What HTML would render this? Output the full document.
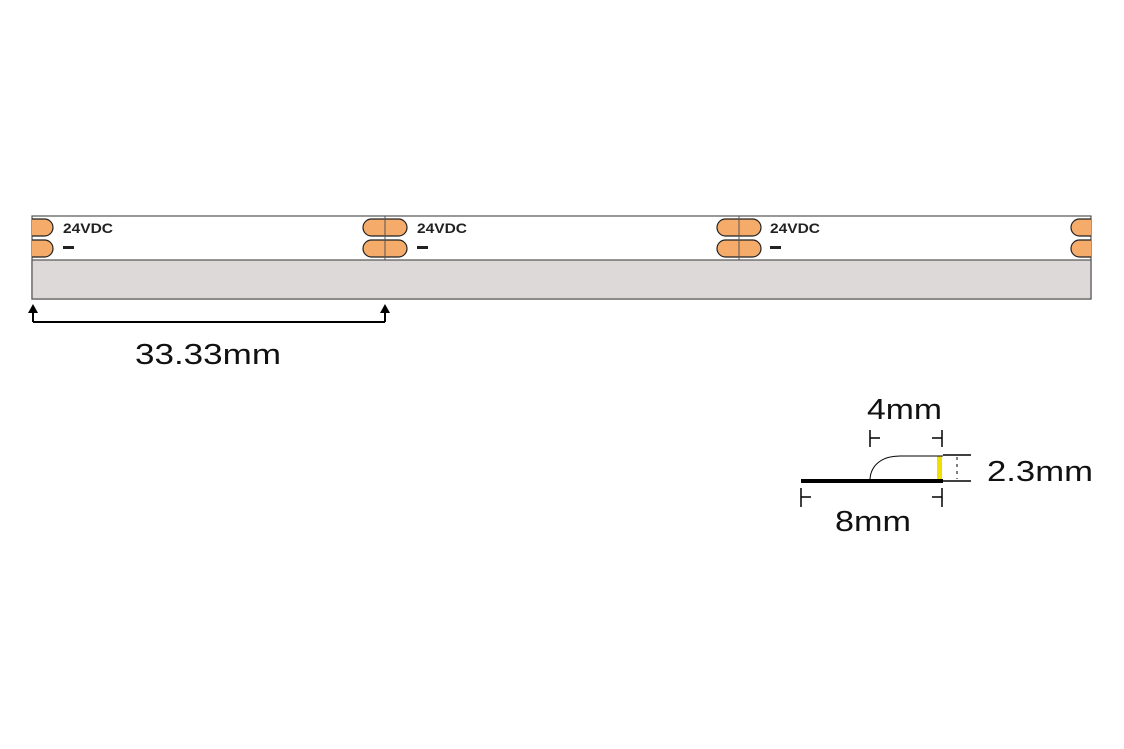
<!DOCTYPE html>
<html><head><meta charset="utf-8"><style>body{margin:0;background:#fff}svg{display:block}</style></head>
<body>
<svg width="1124" height="749" viewBox="0 0 1124 749" xmlns="http://www.w3.org/2000/svg">
<defs>
<clipPath id="c"><rect x="32" y="216" width="1059" height="44"/></clipPath>
</defs>
<rect x="32" y="216" width="1059" height="83" fill="#fff" stroke="#555" stroke-width="1.2"/>
<rect x="32" y="260" width="1059" height="39" fill="#dcd9d8" stroke="#555" stroke-width="1.2"/>
<g clip-path="url(#c)" fill="#f5ab6a" stroke="#222" stroke-width="1.2">
<rect x="10" y="219" width="43" height="17" rx="8.5"/>
<rect x="10" y="240" width="43" height="17" rx="8.5"/>
<rect x="363" y="219" width="44" height="17" rx="8.5"/>
<rect x="363" y="240" width="44" height="17" rx="8.5"/>
<rect x="717" y="219" width="44" height="17" rx="8.5"/>
<rect x="717" y="240" width="44" height="17" rx="8.5"/>
<rect x="1071" y="219" width="44" height="17" rx="8.5"/>
<rect x="1071" y="240" width="44" height="17" rx="8.5"/>
</g>
<g stroke="#555" stroke-width="1"><line x1="385" y1="216" x2="385" y2="260"/><line x1="739" y1="216" x2="739" y2="260"/></g>
<g font-family="Liberation Sans, sans-serif" font-weight="bold" font-size="13.5" fill="#222">
<text x="63" y="233" textLength="50" lengthAdjust="spacingAndGlyphs">24VDC</text><text x="417" y="233" textLength="50" lengthAdjust="spacingAndGlyphs">24VDC</text><text x="770" y="233" textLength="50" lengthAdjust="spacingAndGlyphs">24VDC</text>
</g>
<g fill="#222"><rect x="63" y="246" width="11" height="3"/><rect x="417" y="246" width="11" height="3"/><rect x="770" y="246" width="11" height="3"/></g>
<path d="M33 322 H385 M33 322 V310 M385 322 V310" stroke="#000" stroke-width="2" fill="none"/>
<path d="M28 313 L33 304 L38 313 Z M380 313 L385 304 L390 313 Z" fill="#000"/>
<g font-family="Liberation Sans, sans-serif" font-size="29" fill="#111">
<text x="135" y="364" textLength="146" lengthAdjust="spacingAndGlyphs">33.33mm</text>
<text x="867" y="419" textLength="75" lengthAdjust="spacingAndGlyphs">4mm</text>
<text x="987" y="481" textLength="106" lengthAdjust="spacingAndGlyphs">2.3mm</text>
<text x="835" y="531" textLength="76" lengthAdjust="spacingAndGlyphs">8mm</text>
</g>
<rect x="801" y="479" width="142" height="4" fill="#000"/>
<rect x="937" y="456" width="5" height="23" fill="#f0e000"/>
<path d="M870 479 C871 465 882 456 900 456 H943" stroke="#000" stroke-width="1" fill="none"/>
<g stroke="#000" stroke-width="1.5" fill="none">
<path d="M870 430 V447 M870 438 H880 M942 430 V447 M942 438 H932"/>
<path d="M801 488 V507 M801 497 H811 M942 488 V507 M942 497 H932"/>
<path d="M943 455 H971 M943 481 H971"/>
</g>
<path d="M957 457 V479" stroke="#000" stroke-width="1" stroke-dasharray="3,4"/>
</svg>
</body></html>
